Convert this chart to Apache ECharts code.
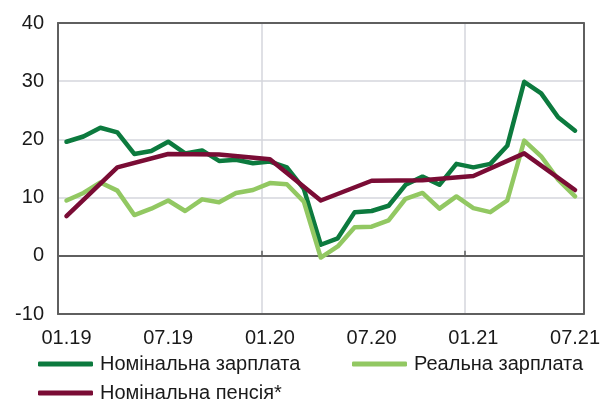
<!DOCTYPE html>
<html lang="uk">
<head>
  <meta charset="UTF-8">
  <title>Зарплата і пенсія</title>
  <script src="https://cdn.jsdelivr.net/npm/echarts@6/dist/echarts.min.js"></script>
  <style>
    html, body { margin: 0; padding: 0; background: #fff; }
    #chart { width: 603px; height: 410px; }
  </style>
</head>
<body>
<div id="chart"></div>
<script>
  // місяці 01.19 - 07.21
  const months = [
    '01.19', '02.19', '03.19', '04.19', '05.19', '06.19', '07.19', '08.19', '09.19', '10.19', '11.19', '12.19',
    '01.20', '02.20', '03.20', '04.20', '05.20', '06.20', '07.20', '08.20', '09.20', '10.20', '11.20', '12.20',
    '01.21', '02.21', '03.21', '04.21', '05.21', '06.21', '07.21'
  ]
  const nominalWage = [19.6, 20.5, 22.0, 21.2, 17.5, 18.0, 19.6, 17.6, 18.1, 16.3, 16.5, 15.9,
    16.2, 15.2, 11.5, 1.9, 3.0, 7.5, 7.7, 8.6, 12.2, 13.6, 12.2, 15.8,
    15.2, 15.8, 18.9, 29.9, 27.9, 23.8, 21.5]
  const realWage = [9.5, 10.8, 12.6, 11.2, 7.0, 8.1, 9.5, 7.7, 9.7, 9.2, 10.8, 11.3,
    12.5, 12.3, 9.3, -0.3, 1.6, 4.9, 5.0, 6.1, 9.8, 10.8, 8.1, 10.2,
    8.2, 7.5, 9.5, 19.8, 17.1, 13.1, 10.2]
  // пенсія - квартальні дані
  const nominalPension = [6.8, null, null, 15.2, null, null, 17.5, null, null, 17.4, null, null,
    16.6, null, null, 9.5, null, null, 12.9, null, null, 13.0, null, null,
    13.7, null, null, 17.6, null, null, 11.3]
  const yTicks = { min: -10, max: 40, step: 10 }

  const names = ['Номінальна зарплата', 'Реальна зарплата', 'Номінальна пенсія*']
  const colors = ['#0c7a3e', '#92c862', '#7a0c35']
  const font = 'Liberation Sans, Arial, sans-serif'
  const frame = { color: '#5f5f5f', width: 2 }

  let chart = echarts.init(document.querySelector('#chart'))

  let legendBase = {
    padding: 0,
    itemWidth: 55,
    itemHeight: 5,
    icon: 'roundRect',
    textStyle: { fontFamily: font, fontSize: 20, color: '#1a1a1a', padding: [0, 0, 0, 2] }
  }

  // рамка: окремі осі без підписів
  let frameAxis = (type, position, extra) => Object.assign({
    type,
    position,
    axisLine: { show: true, onZero: false, lineStyle: frame },
    axisTick: { show: false },
    axisLabel: { show: false },
    splitLine: { show: false }
  }, extra)

  let option = {
    animation: false,
    grid: { left: 58, right: 13, top: 23, bottom: 96 },
    legend: [
      Object.assign({ data: [names[0]], left: 38, top: 354 }, legendBase),
      Object.assign({ data: [names[1]], left: 352, top: 354 }, legendBase),
      Object.assign({ data: [names[2]], left: 38, top: 383 }, legendBase)
    ],
    xAxis: [
      {
        type: 'category',
        data: months,
        boundaryGap: true,
        position: 'bottom',
        axisLine: { show: true, onZero: false, lineStyle: frame },
        axisTick: { show: false },
        axisLabel: { interval: 5, margin: 14, fontFamily: font, fontSize: 20, color: '#1a1a1a' },
        splitLine: { show: true, interval: 11, lineStyle: { color: '#d4d6dc', width: 1.5 } }
      },
      {
        type: 'category',
        data: months,
        boundaryGap: true,
        position: 'bottom',
        axisLine: { show: true, onZero: true, lineStyle: frame },
        axisTick: { show: true, inside: true, interval: 11, length: 5, lineStyle: { color: '#5f5f5f', width: 1.5 } },
        axisLabel: { show: false },
        splitLine: { show: false }
      },
      frameAxis('category', 'top', { data: months })
    ],
    yAxis: [
      {
        type: 'value',
        min: yTicks.min,
        max: yTicks.max,
        interval: yTicks.step,
        position: 'left',
        axisLine: { show: true, onZero: false, lineStyle: frame },
        axisTick: { show: false },
        axisLabel: { margin: 14, fontFamily: font, fontSize: 20, color: '#1a1a1a' },
        splitLine: { showMinLine: false, showMaxLine: false, lineStyle: { color: '#d4d6dc', width: 1.5 } }
      },
      frameAxis('value', 'right', { min: yTicks.min, max: yTicks.max, interval: yTicks.step })
    ],
    series: [nominalWage, realWage, nominalPension].map((data, i) => ({
      name: names[i],
      type: 'line',
      data,
      xAxisIndex: 0,
      yAxisIndex: 0,
      symbol: 'none',
      connectNulls: true,
      color: colors[i],
      lineStyle: { width: 4.5, color: colors[i], cap: 'round', join: 'round' }
    }))
  }
  chart.setOption(option)
</script>
</body>
</html>
